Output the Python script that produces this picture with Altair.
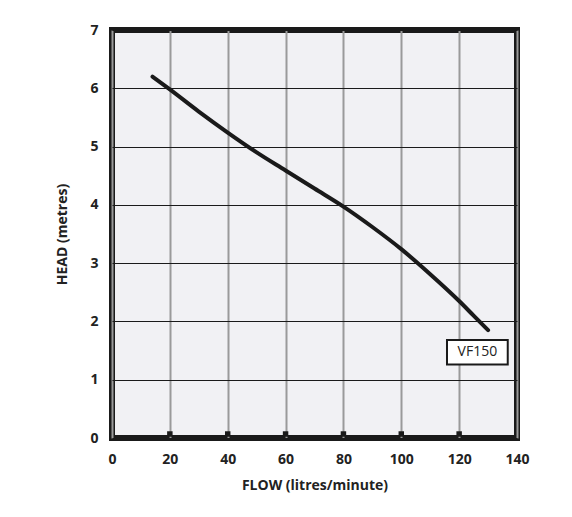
import altair as alt
import pandas as pd

flow = [14, 20, 30, 40, 50, 60, 70, 80, 90, 100, 110, 120, 125, 130]
head = [6.2, 5.98, 5.6, 5.24, 4.9, 4.59, 4.28, 3.97, 3.62, 3.24, 2.81, 2.35, 2.1, 1.85]
x_ticks = [0, 20, 40, 60, 80, 100, 120, 140]
y_ticks = [0, 1, 2, 3, 4, 5, 6, 7]
label_text = ["VF150"]
label_x = [126.3]
label_y = [1.47]

curve = pd.DataFrame({"flow": flow, "head": head})
lab = pd.DataFrame({"t": label_text, "x": label_x, "y": label_y})
ticks = pd.DataFrame({"x": x_ticks[1:-1]})

xs = alt.Scale(domain=[0, 140], nice=False)
ys = alt.Scale(domain=[0, 7], nice=False)

base_x = alt.X("flow:Q", scale=xs, axis=alt.Axis(
    title="FLOW (litres/minute)", values=x_ticks, grid=True, gridColor="#9a9a9a",
    gridWidth=2, domain=False, ticks=False, labelPadding=14, titlePadding=12,
    labelFlush=False, format="d",
    labelFontSize=14, labelFontWeight="bold", titleFontSize=14, titleFontWeight="bold",
    labelFont="Open Sans", titleFont="Open Sans", labelColor="#222", titleColor="#222"))
base_y = alt.Y("head:Q", scale=ys, axis=alt.Axis(
    title="HEAD (metres)", values=y_ticks, grid=True, gridColor="#1a1a1a",
    gridWidth=1.2, domain=False, ticks=False, labelPadding=14, titlePadding=20,
    labelFlush=False, format="d",
    labelFontSize=14, labelFontWeight="bold", titleFontSize=14, titleFontWeight="bold",
    labelFont="Open Sans", titleFont="Open Sans", labelColor="#222", titleColor="#222"))

line = alt.Chart(curve).mark_line(color="#1a1a1a", strokeWidth=4, strokeCap="round",
                                  interpolate="monotone").encode(x=base_x, y=base_y)

tickmarks = alt.Chart(ticks).mark_square(color="#1a1a1a", size=30, opacity=1).encode(
    x=alt.X("x:Q", scale=xs), y=alt.value(404))

lbl_box = alt.Chart(lab).transform_calculate(
    x1="datum.x - 10.5", x2b="datum.x + 10.5", y1="datum.y - 0.21", y2b="datum.y + 0.21"
).mark_rect(fill="white", stroke="#1a1a1a", strokeWidth=2).encode(
    x=alt.X("x1:Q", scale=xs), x2="x2b:Q",
    y=alt.Y("y1:Q", scale=ys), y2="y2b:Q")

lbl_text = alt.Chart(lab).mark_text(font="Open Sans", fontSize=14, color="#222").encode(
    x=alt.X("x:Q", scale=xs), y=alt.Y("y:Q", scale=ys), text="t:N")

chart = alt.layer(line, tickmarks, lbl_box, lbl_text).properties(
    width=405, height=408,
    background="white",
    autosize=alt.AutoSizeParams(type="none"),
    padding={"left": 104, "top": 22, "right": 40, "bottom": 60},
).configure_view(
    fill="#f1f1f4", stroke="#1a1a1a", strokeWidth=6
)

chart.save("out.html", embed_options={"renderer": "svg", "actions": False})
